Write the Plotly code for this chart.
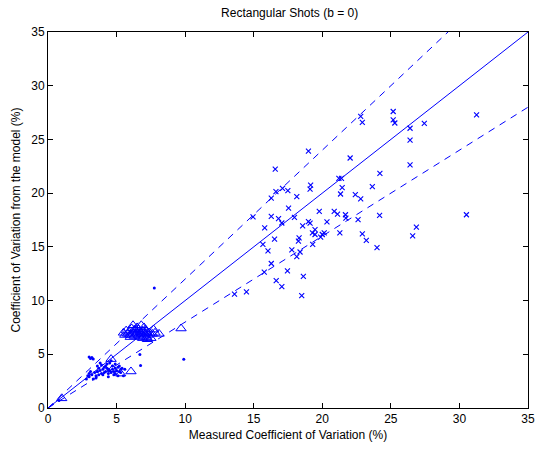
import plotly.graph_objects as go

# --- data ---
cross_x = [31.25, 30.51, 27.44, 26.40, 26.40, 26.40, 26.86, 26.59, 25.17, 25.17, 25.29, 22.80, 22.92, 18.99, 22.03, 16.57,
           21.21, 21.40, 24.20, 19.15, 19.11, 17.10, 17.49, 16.62, 21.45, 21.33, 23.65, 16.28, 18.14, 22.41, 22.80, 17.54,
           14.95, 16.28, 16.81, 17.05, 17.97, 19.78, 20.87, 21.11, 21.69, 21.72, 22.61, 24.18, 15.80, 18.57, 18.99, 19.11,
           20.34, 16.52, 18.31, 18.26, 19.28, 19.47, 19.47, 20.00, 20.14, 19.88, 21.28, 19.30, 22.92, 23.21, 23.99, 15.67,
           16.04, 17.78, 18.38, 18.14, 16.28, 15.77, 17.46, 16.64, 17.05, 18.62, 18.50, 13.6, 14.47]
cross_y = [27.29, 17.99, 26.50, 26.04, 24.93, 22.63, 16.83, 16.03, 27.60, 26.83, 26.53, 27.14, 26.59, 23.92, 23.27, 22.23,
           21.37, 21.37, 21.83, 20.75, 20.38, 20.45, 20.23, 20.14, 20.51, 19.92, 20.60, 19.53, 19.68, 19.87, 19.46, 18.61,
           17.80, 17.84, 17.62, 17.22, 17.75, 18.30, 18.30, 18.05, 17.99, 17.68, 17.53, 17.93, 16.76, 16.95, 17.34, 17.20,
           17.32, 15.72, 15.84, 15.54, 16.30, 16.61, 16.15, 16.15, 16.30, 15.90, 16.30, 15.23, 16.21, 15.60, 14.92, 15.23,
           14.62, 14.71, 14.52, 14.09, 13.45, 12.65, 12.77, 11.85, 11.30, 12.25, 10.47, 10.6, 10.8]

tri_x = [5.5, 5.7, 5.8, 5.9, 6.0, 6.1, 6.2, 6.2, 6.3, 6.4, 6.4, 6.5, 6.5, 6.6, 6.6, 6.7, 6.7, 6.8, 6.8, 6.9, 6.9, 7.0, 7.0,
         7.1, 7.1, 7.2, 7.2, 7.3, 7.4, 7.5, 7.6, 7.7, 7.8, 8.1, 6.3, 6.0, 5.6, 7.0, 7.25, 6.8, 9.7, 6.05, 4.6, 4.7, 5.3, 1.0]
tri_y = [7.0, 7.2, 6.9, 7.1, 6.8, 7.4, 7.0, 7.7, 6.7, 7.2, 6.9, 7.5, 7.0, 6.8, 7.3, 7.1, 6.6, 7.7, 6.9, 7.2, 6.5, 7.0, 6.7,
         7.3, 6.9, 7.1, 6.6, 6.8, 7.0, 6.5, 6.9, 7.3, 7.0, 6.9, 7.3, 6.6, 6.8, 7.5, 6.4, 7.0, 7.4, 3.4, 4.55, 3.6, 3.2, 0.9]

dot_x = [2.9, 3.0, 3.1, 3.2, 3.3, 3.0, 3.2, 3.4, 3.5, 3.6, 3.7, 3.8, 3.9, 4.0, 4.1, 4.2, 4.3, 4.4, 4.5, 4.6, 4.7, 4.8,
         4.9, 5.0, 5.1, 5.2, 5.3, 5.4, 5.5, 3.5, 3.7, 3.9, 4.1, 4.3, 4.5, 4.7, 4.9, 5.1, 5.3, 3.3, 3.6, 4.0, 4.4, 4.8,
         5.2, 3.8, 4.2, 4.6, 2.8, 3.0, 3.1, 5.6, 6.7, 6.75, 9.9, 7.75, 4.4, 0.8, 3.6, 4.9]
dot_y = [3.0, 4.75, 4.6, 4.7, 4.55, 2.9, 3.1, 3.3, 3.0, 3.4, 3.1, 3.5, 3.2, 3.6, 3.3, 3.4, 3.7, 3.2, 3.5, 3.3, 3.6, 3.4,
         3.7, 3.5, 3.8, 3.9, 3.6, 3.7, 3.0, 2.8, 3.7, 4.0, 3.8, 4.1, 4.2, 3.9, 3.2, 3.0, 3.3, 2.7, 3.9, 3.1, 2.9, 3.1,
         3.4, 4.2, 3.9, 4.4, 2.7, 3.2, 3.4, 3.6, 4.97, 3.96, 4.54, 11.17, 3.6, 0.7, 3.4, 4.1]

ref_x = [0, 35]
slope_solid = 1.0
slope_upper = 1.2
slope_lower = 0.8
ticks = [0, 5, 10, 15, 20, 25, 30, 35]

BLUE = "#0000ff"
FONT = "Liberation Sans, Arial, sans-serif"
fig = go.Figure()

fig.add_trace(go.Scatter(x=ref_x, y=[v * slope_solid for v in ref_x], mode="lines",
                         line=dict(color=BLUE, width=1), showlegend=False))
fig.add_trace(go.Scatter(x=ref_x, y=[v * slope_upper for v in ref_x], mode="lines",
                         line=dict(color=BLUE, width=1, dash="7px,6px"), showlegend=False))
fig.add_trace(go.Scatter(x=ref_x, y=[v * slope_lower for v in ref_x], mode="lines",
                         line=dict(color=BLUE, width=1, dash="7px,6px"), showlegend=False))

fig.add_trace(go.Scatter(x=cross_x, y=cross_y, mode="markers",
                         marker=dict(symbol="x-thin", size=5, line=dict(color=BLUE, width=1.1)),
                         showlegend=False))
fig.add_trace(go.Scatter(x=tri_x, y=tri_y, mode="markers",
                         marker=dict(symbol="triangle-up-open", size=9, color=BLUE, line=dict(color=BLUE, width=1)),
                         showlegend=False))
fig.add_trace(go.Scatter(x=dot_x, y=dot_y, mode="markers",
                         marker=dict(symbol="circle", size=3, color=BLUE, line=dict(width=0)),
                         showlegend=False))

axis_common = dict(range=[0, 35], tickvals=ticks, ticks="inside", ticklen=5, tickcolor="black",
                   showline=True, linecolor="black", linewidth=1, mirror="ticks", showgrid=False,
                   zeroline=False, tickfont=dict(family=FONT, size=12, color="black"))

fig.update_layout(
    width=547, height=452,
    margin=dict(l=48, r=16, t=32, b=40),
    paper_bgcolor="white", plot_bgcolor="white",
    title=dict(text="Rectangular Shots (b = 0)", x=0.5295, xanchor="center", y=0.972, yanchor="middle",
               font=dict(family=FONT, size=12, color="black")),
    xaxis=dict(axis_common, title=dict(text="Measured Coefficient of Variation (%)", standoff=5,
                                       font=dict(family=FONT, size=12, color="black"))),
    yaxis=dict(axis_common, title=dict(text="Coefficient of Variation from the model (%)", standoff=8,
                                       font=dict(family=FONT, size=12, color="black"))),
)

fig.write_html("out.html", config={"displayModeBar": False},
               post_script="document.body.style.margin='0';document.body.style.overflow='hidden';")
